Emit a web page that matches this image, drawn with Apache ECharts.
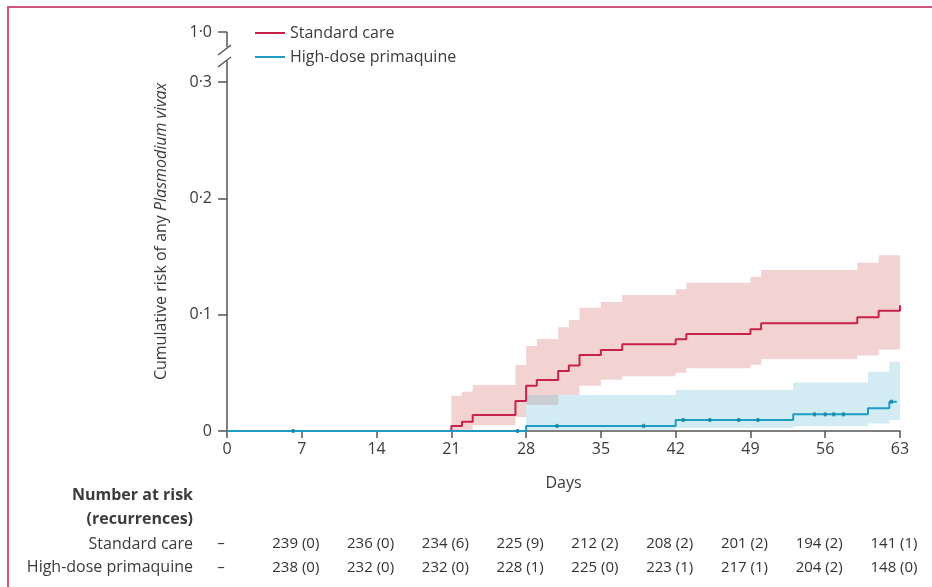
<!DOCTYPE html>
<html><head><meta charset="utf-8">
<script src="https://cdn.jsdelivr.net/npm/echarts@6/dist/echarts.min.js"></script>
<style>html,body{margin:0;padding:0;background:#fff}#c{width:932px;height:587px}</style>
</head><body><div id="c"></div>
<script>
// ---- data ----
const dayTicks = [0, 7, 14, 21, 28, 35, 42, 49, 56, 63];
const yTickLabels = ['0', '0·1', '0·2', '0·3', '1·0'];

const stdDays  = [0, 21, 22, 23, 27, 28, 29, 31, 32, 33, 35, 37, 42, 43, 49, 50, 59, 61, 63];
const stdRisk  = [0, 0.0043, 0.008, 0.0138, 0.0258, 0.039, 0.0439, 0.0516, 0.0562, 0.0653, 0.0697, 0.0745, 0.0788, 0.0834, 0.0874, 0.0926, 0.0977, 0.1034, 0.108];

const stdCIDays  = [21, 22, 23, 27, 28, 29, 31, 32, 33, 35, 37, 42, 43, 49, 50, 59, 61, 63];
const stdCILower = [0, 0.001, 0.005, 0.012, 0.0224, 0.0224, 0.031, 0.031, 0.039, 0.044, 0.047, 0.050, 0.054, 0.057, 0.062, 0.065, 0.070, 0.070];
const stdCIUpper = [0.0304, 0.0338, 0.0396, 0.0568, 0.0731, 0.0791, 0.0892, 0.0954, 0.106, 0.111, 0.117, 0.1218, 0.1275, 0.1327, 0.1384, 0.1447, 0.151, 0.151];

const hdDays = [0, 28, 42, 53, 60, 62, 62.7];
const hdRisk = [0, 0.0044, 0.0095, 0.0143, 0.0195, 0.0252, 0.0252];

const hdCIDays  = [28, 42, 53, 60, 62, 63];
const hdCILower = [0.001, 0.0025, 0.004, 0.0065, 0.0095, 0.0095];
const hdCIUpper = [0.031, 0.0353, 0.0418, 0.051, 0.0596, 0.0596];

const hdCensorDays = [6.2, 27.2, 30.9, 39.0, 42.7, 45.2, 47.9, 49.7, 55.0, 56.0, 56.8, 57.7, 62.2];
const hdCensorRisk = [0, 0, 0.0044, 0.0044, 0.0095, 0.0095, 0.0095, 0.0095, 0.0143, 0.0143, 0.0143, 0.0143, 0.0252];

const stdAtRisk = ['–', '239 (0)', '236 (0)', '234 (6)', '225 (9)', '212 (2)', '208 (2)', '201 (2)', '194 (2)', '141 (1)'];
const hdAtRisk  = ['–', '238 (0)', '232 (0)', '232 (0)', '228 (1)', '225 (0)', '223 (1)', '217 (1)', '204 (2)', '148 (0)'];

// ---- styles ----
const FONT = "'Open Sans', 'Liberation Sans', sans-serif";
const TXT = '#3b3b3b';
const RED = '#c8224a';
const BLUE = '#1e9cc4';
const YMAX = 0.343;

const zip = (a, b) => a.map((v, i) => [v, b[i]]);
const zip3 = (a, b, c) => a.map((v, i) => [v, b[i], c[i]]);

const chart = echarts.init(document.getElementById('c'), null, {renderer: 'canvas'});

function riskAxis(arr, offset) {
  return {
    type: 'value', gridIndex: 0, position: 'bottom', offset: offset,
    min: 0, max: 63, interval: 7,
    axisLine: {show: false}, axisTick: {show: false}, splitLine: {show: false},
    axisLabel: {
      showMinLabel: true, showMaxLabel: true, margin: 0,
      fontFamily: FONT, fontSize: 15, color: '#333', padding: [0, 12, 0, 0],
      formatter: v => arr[Math.round(v / 7)]
    }
  };
}

// step band polygon drawn through the axes' coordinate system
function bandSeries(days, lo, up, fill, opacity, z) {
  return {
    type: 'custom', silent: true, z: z, clip: true,
    encode: {x: 0, y: [1, 2]},
    data: zip3(days, lo, up),
    renderItem: function (params, api) {
      if (params.dataIndex !== 0) return null;
      const pts = [];
      for (let i = 0; i < days.length - 1; i++) {
        pts.push(api.coord([days[i], up[i]]));
        pts.push(api.coord([days[i + 1], up[i]]));
      }
      for (let i = days.length - 2; i >= 0; i--) {
        pts.push(api.coord([days[i + 1], lo[i]]));
        pts.push(api.coord([days[i], lo[i]]));
      }
      return {type: 'polygon', shape: {points: pts}, style: {fill: fill, opacity: opacity}};
    }
  };
}

const option = {
  animation: false,
  backgroundColor: '#fff',
  grid: {left: 227, right: 32, top: 32, bottom: 156, containLabel: false},
  legend: {
    left: 255, top: 25, padding: 0, orient: 'vertical', itemWidth: 30, itemHeight: 2, itemGap: 8,
    data: [{name: 'Standard care', icon: 'rect'}, {name: 'High-dose primaquine', icon: 'rect'}],
    textStyle: {fontFamily: FONT, fontSize: 16, color: TXT},
    selectedMode: false
  },
  xAxis: [
    {
      type: 'value', min: 0, max: 63, interval: 7,
      name: 'Days', nameLocation: 'middle', nameGap: 44,
      nameTextStyle: {fontFamily: FONT, fontSize: 16, color: TXT},
      axisLine: {show: true, lineStyle: {color: '#555', width: 1.5}},
      axisTick: {show: true, length: 7, lineStyle: {color: '#555', width: 1.5}},
      axisLabel: {fontFamily: FONT, fontSize: 16, color: TXT, margin: 10, showMinLabel: true, showMaxLabel: true},
      splitLine: {show: false}
    },
    riskAxis(stdAtRisk, 105),
    riskAxis(hdAtRisk, 129)
  ],
  yAxis: {
    type: 'value', min: 0, max: YMAX, interval: 0.1,
    name: '{a|Cumulative risk of any }{b|Plasmodium vivax}',
    nameLocation: 'middle', nameRotate: 90, nameGap: 58,
    nameTextStyle: {
      rich: {
        a: {fontFamily: FONT, fontSize: 16, color: TXT},
        b: {fontFamily: FONT, fontSize: 16, color: TXT, fontStyle: 'italic'}
      }
    },
    axisLine: {show: false},
    axisTick: {show: true, length: 9, lineStyle: {color: '#555', width: 1.5}},
    axisLabel: {
      fontFamily: FONT, fontSize: 16, color: TXT, margin: 15, showMaxLabel: true, showMinLabel: true,
      formatter: v => v > 0.32 ? yTickLabels[4] : yTickLabels[Math.round(v / 0.1)]
    },
    splitLine: {show: false}
  },
  series: [
    bandSeries(stdCIDays, stdCILower, stdCIUpper, '#f3d3d2', 1, 1),
    bandSeries(hdCIDays, hdCILower, hdCIUpper, 'rgb(129,201,221)', 0.35, 2),
    {name: 'Standard care', type: 'line', step: 'end', symbol: 'none',
     lineStyle: {color: RED, width: 2}, itemStyle: {color: RED},
     data: zip(stdDays, stdRisk), z: 5},
    {name: 'High-dose primaquine', type: 'line', step: 'end', symbol: 'none',
     lineStyle: {color: BLUE, width: 2}, itemStyle: {color: BLUE},
     data: zip(hdDays, hdRisk), z: 6},
    {name: 'hdCensor', type: 'scatter', symbol: 'rect', symbolSize: [3, 4], silent: true,
     itemStyle: {color: '#137f9f'}, data: zip(hdCensorDays, hdCensorRisk), z: 7}
  ]
};
chart.setOption(option);

// axis line with break + frame decoration
const p0 = chart.convertToPixel({gridIndex: 0}, [0, 0]);
const pTop = chart.convertToPixel({gridIndex: 0}, [0, YMAX]);
const ax = p0[0], y0 = p0[1], yt = pTop[1];
const axStyle = {stroke: '#555', lineWidth: 1.5};
const frame = {stroke: '#d2577d', lineWidth: 2};
chart.setOption({
  graphic: [
    {type: 'line', shape: {x1: ax, y1: y0, x2: ax, y2: yt + 29}, style: axStyle, silent: true},
    {type: 'line', shape: {x1: ax, y1: yt, x2: ax, y2: yt + 15}, style: axStyle, silent: true},
    {type: 'line', shape: {x1: ax - 9, y1: yt + 23, x2: ax + 4, y2: yt + 13}, style: axStyle, silent: true},
    {type: 'line', shape: {x1: ax - 9, y1: yt + 35, x2: ax + 4, y2: yt + 25}, style: axStyle, silent: true},
    {type: 'line', shape: {x1: 8, y1: 7, x2: 932, y2: 7}, style: frame, silent: true},
    {type: 'line', shape: {x1: 8, y1: 6, x2: 8, y2: 587}, style: frame, silent: true},
    {type: 'text', right: 932 - 193, top: 487, style: {text: 'Number at risk', font: "bold 16px " + FONT, fill: TXT, textAlign: 'right'}},
    {type: 'text', right: 932 - 193, top: 511, style: {text: '(recurrences)', font: "bold 16px " + FONT, fill: TXT, textAlign: 'right'}},
    {type: 'text', right: 932 - 193, top: 536, style: {text: 'Standard care', font: "16px " + FONT, fill: TXT, textAlign: 'right'}},
    {type: 'text', right: 932 - 193, top: 559, style: {text: 'High-dose primaquine', font: "16px " + FONT, fill: TXT, textAlign: 'right'}}
  ]
});
</script>
</body></html>
